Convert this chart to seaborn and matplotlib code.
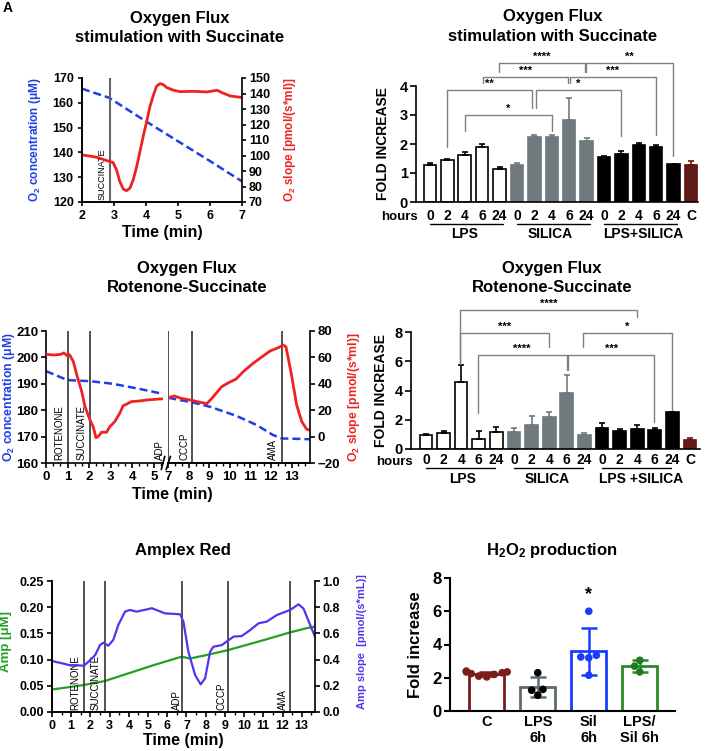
import numpy as np
import pandas as pd
import matplotlib
matplotlib.use("Agg")
import matplotlib.pyplot as plt
from matplotlib.ticker import MultipleLocator, FormatStrFormatter
import seaborn as sns

# ── Data ──────────────────────────────────────────────────────────────────────
# A: oxygen flux trace, stimulation with succinate
a_conc_t = [2.0, 2.85, 4.0, 5.0, 6.0, 7.0]
a_conc = [165.7, 162.0, 152.5, 144.5, 136.5, 128.3]
a_slope_t = [2.0, 2.45, 2.87, 2.97, 3.08, 3.18, 3.29, 3.39, 3.50, 3.60, 3.71, 3.81,
             3.91, 4.02, 4.12, 4.23, 4.33, 4.44, 4.54, 4.65, 4.86, 5.06, 5.48, 5.90,
             6.11, 6.22, 6.37, 6.63, 7.0]
a_slope = [100.4, 98.9, 96.1, 95.5, 90.7, 83.3, 78.3, 77.3, 79.0, 84.3, 92.9, 102.5,
           112.1, 121.8, 131.4, 138.9, 144.7, 146.4, 145.7, 143.8, 142.1, 141.2, 141.4,
           141.0, 141.7, 142.1, 140.6, 138.4, 137.4]
a_events = {"SUCCINATE": 2.87}

# fold increase bars (shared categories)
hours = ["0", "2", "4", "6", "24"]
groups = ["LPS", "SILICA", "LPS+SILICA"]
conds = [f"{g} {h}" for g in groups for h in hours] + ["C"]
tick_labels = hours * 3 + ["C"]

succ_mean = [1.27, 1.46, 1.63, 1.91, 1.13, 1.27, 2.25, 2.25, 2.84, 2.09,
             1.55, 1.66, 1.96, 1.89, 1.30, 1.27]
succ_err = [0.07, 0.02, 0.10, 0.08, 0.06, 0.07, 0.07, 0.05, 0.73, 0.13,
            0.03, 0.11, 0.08, 0.06, 0.02, 0.15]
# (x1, x2, top, left leg end, right leg end, label)
succ_brackets = [(2.01, 6.99, 3.00, 2.45, 2.45, "*"),
                 (0.99, 5.84, 3.86, 1.91, 3.23, "**"),
                 (6.07, 11.0, 3.86, 3.23, 2.26, "*"),
                 (3.03, 7.95, 4.32, 4.09, 4.09, "***"),
                 (8.05, 12.99, 4.32, 4.09, 2.32, "***"),
                 (3.97, 8.91, 4.80, 4.49, 4.49, "****"),
                 (8.97, 13.98, 4.80, 4.49, 1.57, "**")]

rot_mean = [0.95, 1.07, 4.55, 0.70, 1.13, 1.16, 1.65, 2.20, 3.80, 0.95,
            1.41, 1.20, 1.36, 1.32, 2.50, 0.61]
rot_err = [0.08, 0.14, 1.22, 0.50, 0.36, 0.25, 0.60, 0.30, 1.29, 0.14,
           0.38, 0.15, 0.28, 0.12, 0.03, 0.15]
rot_brackets = [(1.93, 12.01, 9.48, 5.84, 9.02, "****"),
                (1.93, 6.99, 7.93, 5.84, 6.98, "***"),
                (2.94, 7.99, 6.45, 2.43, 5.39, "****"),
                (8.09, 12.95, 6.45, 5.39, 1.86, "***"),
                (8.94, 13.96, 7.93, 6.98, 2.66, "*")]

# C: rotenone-succinate trace (broken time axis)
c_conc_t1 = [0.0, 0.5, 1.0, 2.04, 3.1, 4.2, 5.43]
c_conc1 = [194.8, 193.1, 191.4, 191.0, 190.0, 188.3, 186.2]
c_slope_t1 = [0.0, 0.37, 0.68, 0.83, 0.98, 1.06, 1.12, 1.27, 1.43, 1.66, 1.81, 2.04,
              2.19, 2.32, 2.42, 2.58, 2.81, 2.96, 3.19, 3.42, 3.58, 3.73, 3.96, 4.35,
              4.65, 5.27, 5.43]
c_slope1 = [62.3, 61.8, 62.3, 63.4, 61.3, 62.3, 61.3, 56.8, 46.7, 34.0, 22.7, 12.6,
            7.5, -0.8, 0.0, 3.3, 3.3, 7.5, 11.3, 17.6, 23.4, 24.5, 26.5, 27.0,
            27.7, 28.5, 28.6]
c_conc_t2 = [7.0, 8.14, 9.03, 10.3, 11.3, 12.1, 12.53, 13.1, 13.87]
c_conc2 = [184.7, 183.0, 181.3, 177.9, 174.4, 170.6, 169.3, 169.2, 169.0]
c_slope_t2 = [7.0, 7.3, 7.62, 8.14, 8.55, 8.88, 9.12, 9.6, 9.93, 10.3, 10.65, 11.13,
              11.46, 11.95, 12.36, 12.6, 12.73, 13.0, 13.25, 13.5, 13.74, 13.87]
c_slope2 = [29.5, 30.8, 29.0, 27.5, 26.0, 25.0, 29.0, 37.8, 40.8, 43.6, 49.2, 55.5,
            59.3, 64.8, 67.4, 69.4, 68.0, 46.7, 24.0, 11.3, 5.5, 5.0]
c_events = {"ROTENONE": 1.0, "SUCCINATE": 2.04, "ADP": 7.0, "CCCP": 8.14, "AMA": 12.53}

# E: Amplex red trace
e_amp_t = [0, 0.8, 1.65, 2.74, 3.98, 5.2, 6.75, 7.19, 8.05, 9.15, 11.0, 12.4, 13.26, 13.69]
e_amp = [0.043, 0.047, 0.0515, 0.059, 0.0738, 0.0884, 0.1056, 0.102, 0.1088, 0.118,
         0.137, 0.152, 0.160, 0.163]
e_slope_t = [0, 0.52, 1.04, 1.39, 1.65, 1.9, 2.25, 2.5, 2.67, 2.93, 3.19, 3.45, 3.8,
             4.06, 4.4, 5.2, 5.88, 6.67, 6.84, 7.1, 7.45, 7.74, 7.97, 8.23, 8.4, 8.84,
             9.15, 9.45, 9.88, 10.32, 10.75, 11.18, 11.7, 12.4, 12.83, 13.09, 13.44, 13.69]
e_slope = [0.389, 0.372, 0.353, 0.356, 0.353, 0.384, 0.435, 0.511, 0.529, 0.506, 0.55,
           0.664, 0.766, 0.779, 0.766, 0.792, 0.753, 0.746, 0.69, 0.46, 0.282, 0.211,
           0.257, 0.46, 0.498, 0.511, 0.544, 0.575, 0.58, 0.626, 0.677, 0.69, 0.74,
           0.779, 0.822, 0.79, 0.664, 0.575]
e_events = {"ROTENONE": 1.65, "SUCCINATE": 2.74, "ADP": 6.76, "CCCP": 9.15, "AMA": 12.39}

# F: H2O2 production
h2o2_groups = ["C", "LPS 6h", "Sil 6h", "LPS/Sil 6h"]
h2o2_ticks = ["C", "LPS\n6h", "Sil\n6h", "LPS/\nSil 6h"]
h2o2_C = [2.35, 2.3, 2.2, 2.05, 2.1, 2.25, 2.35, 2.4]
h2o2_LPS = [2.3, 1.3, 1.25, 0.95]
h2o2_Sil = [6.0, 3.25, 3.2, 3.35, 2.15]
h2o2_LPSSil = [3.05, 2.7, 2.35]

# ── Style ─────────────────────────────────────────────────────────────────────
sns.set_theme(style="ticks", rc={
    "axes.edgecolor": "black", "axes.linewidth": 1.2,
    "xtick.color": "black", "ytick.color": "black",
    "text.color": "black", "axes.labelcolor": "black",
    "xtick.major.width": 1.2, "ytick.major.width": 1.2,
})
plt.rcParams["font.family"] = ["Liberation Sans", "DejaVu Sans"]
plt.rcParams["font.weight"] = "bold"
plt.rcParams["axes.labelweight"] = "bold"
plt.rcParams["mathtext.fontset"] = "custom"
plt.rcParams["mathtext.bf"] = "Liberation Sans:bold"
plt.rcParams["mathtext.rm"] = "Liberation Sans:bold"
plt.rcParams["mathtext.default"] = "bf"

BLUE = "#1f3ee8"
RED = "#ee2222"
GREEN = "#22a022"
PURPLE = "#5533ee"
GRAY = "#6e7a80"
DARKRED = "#6b1010"
BRACKET = "#808080"
VLINE = "#333333"
DASH = (0, (3.2, 1.6))

W, H = 705, 751
fig = plt.figure(figsize=(W / 100, H / 100), dpi=100)


def px(l, t, r, b):
    return [l / W, 1 - b / H, (r - l) / W, (b - t) / H]


def title(x, y, lines, size=12):
    for i, s in enumerate(lines):
        fig.text(x / W, 1 - (y + i * 19.5) / H, s, ha="center", va="center",
                 fontsize=size, weight="bold")


fig.text(0.004, 0.999, "A", fontsize=10, weight="bold", va="top")

# ── A: Oxygen flux, succinate ────────────────────────────────────────────────
title(180, 18, ["Oxygen Flux", "stimulation with Succinate"])
ax = fig.add_axes(px(82, 78, 242, 202))
sns.lineplot(x=a_conc_t, y=a_conc, ax=ax, color=BLUE, lw=1.8, linestyle=DASH)
for name, t in a_events.items():
    ax.axvline(t, color="#666666", lw=1.5)
    ax.text(t - 0.25, 121, name, rotation=90, ha="center", va="bottom",
            fontsize=6.5, weight="normal")
ax.set(xlim=(2, 7), ylim=(120, 170))
ax.set_xticks(range(2, 8))
ax.set_yticks(range(120, 171, 10))
ax.set_xlabel("Time (min)", fontsize=11.5, labelpad=2)
ax.set_ylabel(r"O$_2$ concentration (μM)", color=BLUE, fontsize=8.5)
ax.yaxis.set_label_coords(-0.245, 0.5)
ax.tick_params(labelsize=9, length=3, pad=3)
axr = ax.twinx()
sns.lineplot(x=a_slope_t, y=a_slope, ax=axr, color=RED, lw=2)
axr.set_ylim(70, 150)
axr.set_yticks(range(70, 151, 10))
axr.set_ylabel(r"O$_2$ slope [pmol/(s*ml)]", color=RED, fontsize=8.5)
axr.yaxis.set_label_coords(1.25, 0.5)
axr.tick_params(labelsize=9, length=3, pad=2)
for a in (ax, axr):
    a.spines["top"].set_visible(False)
ax.spines["right"].set_visible(False)


# ── bar panels (B, D) ────────────────────────────────────────────────────────
def bar_panel(rect, means, errs, brks, ylim, ystep, off, geo, group_names):
    ax = fig.add_axes(px(*rect))
    face = ["white"] * 5 + [GRAY] * 5 + ["black"] * 5 + [DARKRED]
    edge = ["black"] * 5 + [GRAY] * 5 + ["black"] * 5 + [DARKRED]
    df = pd.DataFrame({"cond": conds, "val": means})
    sns.barplot(data=df, x="cond", y="val", hue="cond", palette=face, legend=False,
                width=0.72, linewidth=1.2, ax=ax)
    for cont, ec in zip(ax.containers, edge):
        for bar in cont:
            bar.set_edgecolor(ec)
    for i, (m, e, c) in enumerate(zip(means, errs, edge)):
        ax.errorbar(i, m, yerr=[[0], [e]], fmt="none", ecolor=c, elinewidth=1.2,
                    capsize=2.5, capthick=1.2)
    for x1, x2, top, l1, l2, lab in brks:
        ax.plot([x1, x1, x2, x2], [l1, top, top, l2], color=BRACKET, lw=1, clip_on=False)
        ax.text((x1 + x2) / 2, top + off, lab, ha="center", va="bottom", fontsize=8)
    xlo, xhi, hours_y, line_y, grp_y, line_len, tick_pad, grp_x = geo
    ax.set_xlim(xlo, xhi)
    ax.set_ylim(*ylim)
    ax.set_yticks(np.arange(ylim[0], ylim[1] + 0.01, ystep))
    ax.set_xticks(range(len(conds)))
    ax.set_xticklabels(tick_labels)
    ax.tick_params(axis="x", length=0, pad=tick_pad, labelsize=10)
    ax.tick_params(axis="y", length=4, labelsize=10.5, pad=2)
    tr = ax.get_xaxis_transform()
    ax.text(xlo + 0.12, hours_y, "hours", transform=tr, ha="right", va="center", fontsize=9.5)
    for g, name in enumerate(group_names):
        ax.plot([5 * g, 5 * g + line_len], [line_y, line_y], transform=tr, color="black",
                lw=1, clip_on=False)
        ax.text(grp_x[g], grp_y, name, transform=tr, ha="center", va="center", fontsize=10)
    ax.set_xlabel("")
    ax.set_ylabel("FOLD INCREASE", fontsize=10)
    sns.despine(ax=ax)
    return ax


title(553, 17, ["Oxygen Flux", "stimulation with Succinate"])
axb = bar_panel((416, 86, 698, 202), succ_mean, succ_err, succ_brackets, (0, 4), 1, 0.03,
                (-0.8, 15.4, -0.129, -0.19, -0.276, 4.2, 5.3, [2.0, 6.9, 12.25]),
                ["LPS", "SILICA", "LPS+SILICA"])
axb.yaxis.set_label_coords(-0.092, 0.5)

title(552, 268, ["Oxygen Flux", "Rotenone-Succinate"])
axd = bar_panel((411, 332, 700, 449), rot_mean, rot_err, rot_brackets, (0, 8), 2, 0.08,
                (-0.85, 15.57, -0.112, -0.162, -0.256, 3.9, 3.2, [2.1, 6.86, 12.2]),
                ["LPS", "SILICA", "LPS +SILICA"])
axd.yaxis.set_label_coords(-0.08, 0.5)

# ── C: Oxygen flux, rotenone-succinate (broken axis) ─────────────────────────
title(187, 268, ["Oxygen Flux", "Rotenone-Succinate"])
c1 = fig.add_axes(px(46, 331, 163, 463))
c2 = fig.add_axes(px(168.3, 331, 310, 463))
c1r, c2r = c1.twinx(), c2.twinx()
sns.lineplot(x=c_conc_t1, y=c_conc1, ax=c1, color=BLUE, lw=1.8, linestyle=DASH)
sns.lineplot(x=c_conc_t2, y=c_conc2, ax=c2, color=BLUE, lw=1.8, linestyle=DASH)
sns.lineplot(x=c_slope_t1, y=c_slope1, ax=c1r, color=RED, lw=2)
sns.lineplot(x=c_slope_t2, y=c_slope2, ax=c2r, color=RED, lw=2)
c1.set_xlim(0, 5.43)
c2.set_xlim(7, 13.9)
for a in (c1, c2):
    a.set_ylim(160, 210)
for a in (c1r, c2r):
    a.set_ylim(-20, 80)
c1.set_xticks(range(0, 6))
c2.set_xticks(range(7, 14))
for a in (c1, c2):
    a.xaxis.set_minor_locator(MultipleLocator(1 / 3))
    a.tick_params(axis="x", which="minor", length=2, width=1)
    a.tick_params(labelsize=9.5, length=3.5, pad=2)
    a.set_xlabel("")
    a.spines["top"].set_visible(False)
    a.spines["right"].set_visible(False)
c2.spines["left"].set_visible(False)
c2.tick_params(axis="y", left=False, labelleft=False)
c1r.tick_params(axis="y", right=False, labelright=False)
for s in c1r.spines.values():
    s.set_visible(False)
c2r.spines["top"].set_visible(False)
c2r.spines["left"].set_visible(False)
c2r.set_yticks(range(-20, 81, 20))
c2r.tick_params(labelsize=9.5, length=3.5, pad=2)
c1.set_ylabel(r"O$_2$ concentration (μM)", color=BLUE, fontsize=8.8)
c1.yaxis.set_label_coords(-0.25, 0.5)
c2r.set_ylabel(r"O$_2$ slope [pmol/(s*ml)]", color=RED, fontsize=8.8)
c2r.yaxis.set_label_coords(1.255, 0.5)
c_text_x = {"ROTENONE": 0.61, "SUCCINATE": 1.66, "ADP": 5.27, "CCCP": 7.77, "AMA": 12.12}
for name, t in c_events.items():
    a = c1 if t < 6 else c2
    a.axvline(t, color=VLINE, lw=1.2)
    a2 = c1 if c_text_x[name] < 6 else c2
    a2.text(c_text_x[name], 161.2, name, rotation=90, ha="center", va="bottom",
            fontsize=7, weight="normal")
# break marks
for a, xb in ((c1, 1.0), (c2, 0.0)):
    a.plot([xb - 0.015, xb + 0.015], [-0.05, 0.05], transform=a.transAxes, color="black",
           lw=1.2, clip_on=False)
fig.text(172 / W, 1 - 495 / H, "Time (min)", ha="center", va="center", fontsize=11.5,
         weight="bold")

# ── E: Amplex red ─────────────────────────────────────────────────────────────
fig.text(183 / W, 1 - 550 / H, "Amplex Red", ha="center", va="center", fontsize=12,
         weight="bold")
ae = fig.add_axes(px(52, 581, 315, 712))
sns.lineplot(x=e_amp_t, y=e_amp, ax=ae, color=GREEN, lw=1.6)
for name, t in e_events.items():
    ae.axvline(t, color=VLINE, lw=1.2)
e_text_x = {"ROTENONE": 1.21, "SUCCINATE": 2.25, "ADP": 6.5, "CCCP": 8.84, "AMA": 12.04}
for name, t in e_text_x.items():
    ae.text(t, 0.004, name, rotation=90, ha="center", va="bottom", fontsize=7,
            weight="normal")
ae.set(xlim=(0, 13.69), ylim=(0, 0.25))
ae.set_xticks(range(0, 14))
ae.set_yticks(np.arange(0, 0.26, 0.05))
ae.yaxis.set_major_formatter(FormatStrFormatter("%.2f"))
ae.xaxis.set_minor_locator(MultipleLocator(0.5))
ae.tick_params(axis="x", which="minor", length=2, width=1)
ae.tick_params(labelsize=9, length=3.5, pad=2)
ae.set_xlabel("Time (min)", fontsize=11.5, labelpad=1)
ae.set_ylabel("Amp [μM]", color=GREEN, fontsize=9.5)
ae.yaxis.set_label_coords(-0.152, 0.54)
aer = ae.twinx()
sns.lineplot(x=e_slope_t, y=e_slope, ax=aer, color=PURPLE, lw=1.6)
aer.set_ylim(0, 1.0)
aer.set_yticks(np.arange(0, 1.01, 0.2))
aer.yaxis.set_major_formatter(FormatStrFormatter("%.1f"))
aer.tick_params(labelsize=9, length=3.5, pad=2)
aer.set_ylabel("Amp slope  [pmol/(s*mL)]", color=PURPLE, fontsize=8)
aer.yaxis.set_label_coords(1.16, 0.54)
for a in (ae, aer):
    a.spines["top"].set_visible(False)
ae.spines["right"].set_visible(False)

# ── F: H2O2 production ───────────────────────────────────────────────────────
fig.text(552 / W, 1 - 550 / H, r"H$_2$O$_2$ production", ha="center", va="center",
         fontsize=12, weight="bold")
af = fig.add_axes(px(450, 578, 675, 711))
h2o2 = pd.DataFrame({
    "group": ["C"] * len(h2o2_C) + ["LPS 6h"] * len(h2o2_LPS)
             + ["Sil 6h"] * len(h2o2_Sil) + ["LPS/Sil 6h"] * len(h2o2_LPSSil),
    "val": h2o2_C + h2o2_LPS + h2o2_Sil + h2o2_LPSSil,
})
bar_edge = {"C": "#7b1c1c", "LPS 6h": "#5f6b70", "Sil 6h": "#1a3cff", "LPS/Sil 6h": "#2a8a2a"}
dot_col = {"C": "#7b1c1c", "LPS 6h": "black", "Sil 6h": "#1a3cff", "LPS/Sil 6h": "#1e7b1e"}
sns.barplot(data=h2o2, x="group", y="val", hue="group", order=h2o2_groups,
            palette=bar_edge, fill=False, errorbar=None, width=0.68, linewidth=2,
            legend=False, ax=af)
stats = h2o2.groupby("group")["val"].agg(["mean", "std"]).reindex(h2o2_groups)
for i, g in enumerate(h2o2_groups):
    af.errorbar(i, stats.loc[g, "mean"], yerr=stats.loc[g, "std"], fmt="none",
                ecolor=bar_edge[g], elinewidth=1.8, capsize=6, capthick=1.8, zorder=3)
sns.swarmplot(data=h2o2, x="group", y="val", hue="group", order=h2o2_groups,
              palette=dot_col, size=5.5, legend=False, ax=af, zorder=4)
af.text(2, 7.0, "*", ha="center", va="center", fontsize=13)
af.set_xlim(-0.72, 3.69)
af.set_ylim(0, 8)
af.set_yticks(range(0, 9, 2))
af.set_xticks(range(4))
af.set_xticklabels(h2o2_ticks)
af.tick_params(axis="x", length=0, pad=3, labelsize=10.5)
af.tick_params(axis="y", length=4, width=1.5, labelsize=12, pad=2)
af.set_xlabel("")
af.set_ylabel("Fold increase", fontsize=12)
af.yaxis.set_label_coords(-0.119, 0.5)
for s in af.spines.values():
    s.set_linewidth(1.5)
sns.despine(ax=af)

fig.savefig("out.png", dpi=100)
